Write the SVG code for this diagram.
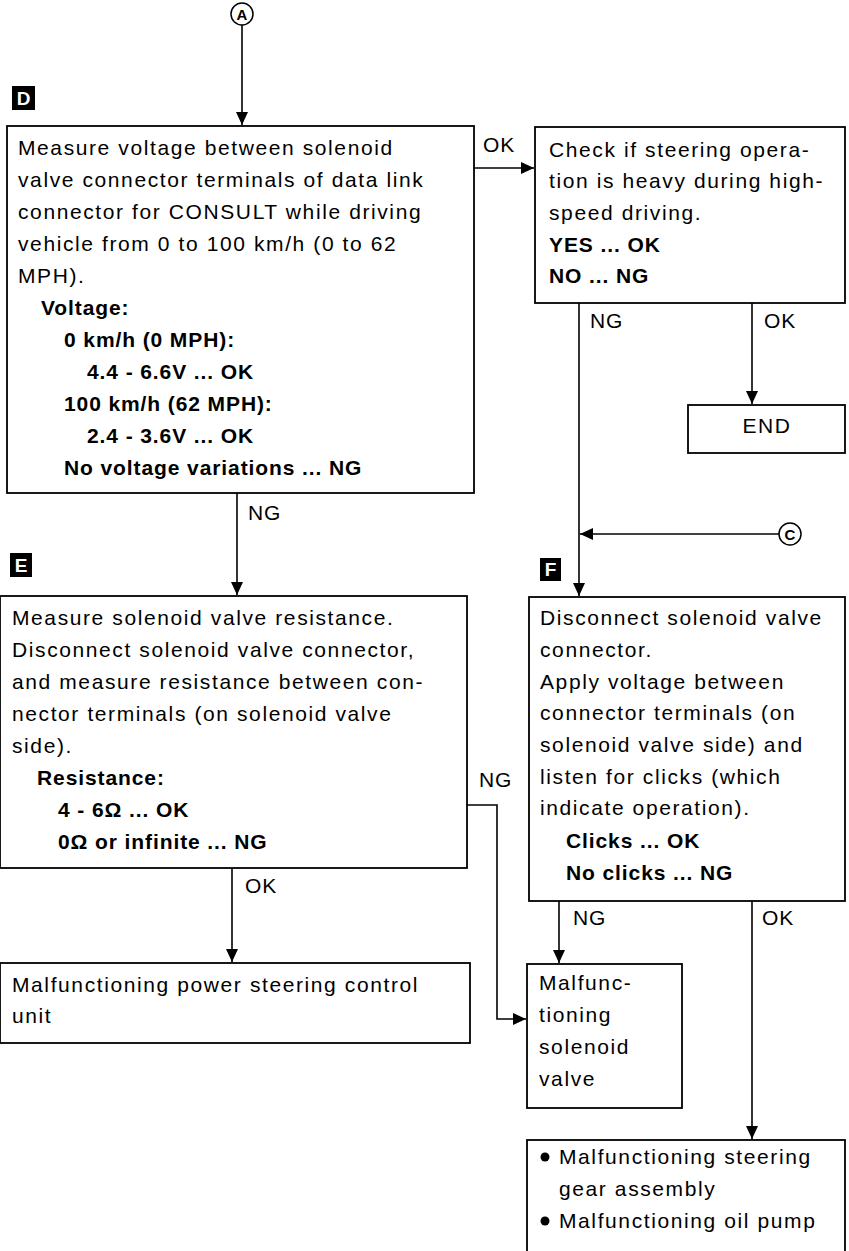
<svg xmlns="http://www.w3.org/2000/svg" width="849" height="1251" viewBox="0 0 849 1251">
<style>
.box{fill:#fff;stroke:#000;stroke-width:1.8}
.ln{fill:none;stroke:#000;stroke-width:1.6}
.t{font-family:"Liberation Sans",Arial,sans-serif;font-size:21px;letter-spacing:1.6px;fill:#000}
.b{font-family:"Liberation Sans",Arial,sans-serif;font-size:21px;font-weight:bold;letter-spacing:0.9px;fill:#000}
.lb{font-family:"Liberation Sans",Arial,sans-serif;font-size:21px;letter-spacing:0.8px;fill:#000}
.mk{fill:#000}
.mt{font-family:"Liberation Sans",Arial,sans-serif;font-size:19px;font-weight:bold;fill:#fff}
.ct{font-family:"Liberation Sans",Arial,sans-serif;font-size:15px;font-weight:bold;fill:#000}
</style>
<defs>
<marker id="ah" markerUnits="userSpaceOnUse" markerWidth="14" markerHeight="12" refX="13" refY="6" orient="auto">
<path d="M0,0 L13,6 L0,12 Z" fill="#000"/>
</marker>
</defs>
<rect width="849" height="1251" fill="#fff"/>

<g id="connectors">
<line class="ln" x1="242" y1="25" x2="242" y2="125" marker-end="url(#ah)"/>
<line class="ln" x1="474" y1="168" x2="534" y2="168" marker-end="url(#ah)"/>
<line class="ln" x1="579" y1="303" x2="579" y2="596" marker-end="url(#ah)"/>
<line class="ln" x1="752" y1="303" x2="752" y2="404" marker-end="url(#ah)"/>
<line class="ln" x1="779" y1="534" x2="580" y2="534" marker-end="url(#ah)"/>
<line class="ln" x1="237" y1="493" x2="237" y2="595" marker-end="url(#ah)"/>
<line class="ln" x1="232" y1="868" x2="232" y2="962" marker-end="url(#ah)"/>
<polyline class="ln" points="467,805 497,805 497,1019 526,1019" marker-end="url(#ah)"/>
<line class="ln" x1="559" y1="901" x2="559" y2="963" marker-end="url(#ah)"/>
<line class="ln" x1="752" y1="901" x2="752" y2="1139" marker-end="url(#ah)"/>
<text class="lb" x="483" y="152">OK</text>
<text class="lb" x="590" y="328">NG</text>
<text class="lb" x="764" y="328">OK</text>
<text class="lb" x="248" y="520">NG</text>
<text class="lb" x="245" y="893">OK</text>
<text class="lb" x="479" y="787">NG</text>
<text class="lb" x="573" y="925">NG</text>
<text class="lb" x="762" y="925">OK</text>
</g>

<g id="connA">
<circle cx="242" cy="14" r="11" fill="#fff" stroke="#000" stroke-width="1.5"/>
<text class="ct" x="242" y="19.5" text-anchor="middle">A</text>
</g>
<g id="connC">
<circle cx="790" cy="534" r="11" fill="#fff" stroke="#000" stroke-width="1.5"/>
<text class="ct" x="790" y="539.5" text-anchor="middle">C</text>
</g>

<g id="labelD">
<rect class="mk" x="12" y="86" width="23" height="24"/>
<text class="mt" x="23.5" y="105" text-anchor="middle">D</text>
</g>
<g id="labelE">
<rect class="mk" x="10" y="553" width="22" height="24"/>
<text class="mt" x="21" y="572" text-anchor="middle">E</text>
</g>
<g id="labelF">
<rect class="mk" x="540" y="558" width="21" height="23"/>
<text class="mt" x="550.5" y="576" text-anchor="middle">F</text>
</g>

<g id="nodeD">
<rect class="box" x="7" y="126" width="467" height="367"/>
<text class="t" x="18" y="155">Measure voltage between solenoid</text>
<text class="t" x="18" y="187">valve connector terminals of data link</text>
<text class="t" x="18" y="219">connector for CONSULT while driving</text>
<text class="t" x="18" y="251">vehicle from 0 to 100 km/h (0 to 62</text>
<text class="t" x="18" y="283">MPH).</text>
<text class="b" x="41" y="315">Voltage:</text>
<text class="b" x="64" y="347">0 km/h (0 MPH):</text>
<text class="b" x="87" y="379">4.4 - 6.6V ... OK</text>
<text class="b" x="64" y="411">100 km/h (62 MPH):</text>
<text class="b" x="87" y="443">2.4 - 3.6V ... OK</text>
<text class="b" x="64" y="475">No voltage variations ... NG</text>
</g>

<g id="nodeCheck">
<rect class="box" x="535" y="127" width="310" height="176"/>
<text class="t" x="549" y="157">Check if steering opera-</text>
<text class="t" x="549" y="188">tion is heavy during high-</text>
<text class="t" x="549" y="220">speed driving.</text>
<text class="b" x="549" y="252">YES ... OK</text>
<text class="b" x="549" y="283">NO ... NG</text>
</g>

<g id="nodeEnd">
<rect class="box" x="688" y="405" width="157" height="48"/>
<text class="t" x="767" y="433" text-anchor="middle">END</text>
</g>

<g id="nodeE">
<rect class="box" x="0" y="596" width="467" height="272"/>
<text class="t" x="12" y="625">Measure solenoid valve resistance.</text>
<text class="t" x="12" y="657">Disconnect solenoid valve connector,</text>
<text class="t" x="12" y="689">and measure resistance between con-</text>
<text class="t" x="12" y="721">nector terminals (on solenoid valve</text>
<text class="t" x="12" y="753">side).</text>
<text class="b" x="37" y="785">Resistance:</text>
<text class="b" x="58" y="817">4 - 6Ω ... OK</text>
<text class="b" x="58" y="849">0Ω or infinite ... NG</text>
</g>

<g id="nodeF">
<rect class="box" x="529" y="597" width="316" height="304"/>
<text class="t" x="540" y="625">Disconnect solenoid valve</text>
<text class="t" x="540" y="657">connector.</text>
<text class="t" x="540" y="689">Apply voltage between</text>
<text class="t" x="540" y="720">connector terminals (on</text>
<text class="t" x="540" y="752">solenoid valve side) and</text>
<text class="t" x="540" y="784">listen for clicks (which</text>
<text class="t" x="540" y="815">indicate operation).</text>
<text class="b" x="566" y="848">Clicks ... OK</text>
<text class="b" x="566" y="880">No clicks ... NG</text>
</g>

<g id="nodePSCU">
<rect class="box" x="0" y="963" width="470" height="80"/>
<text class="t" x="12" y="992">Malfunctioning power steering control</text>
<text class="t" x="12" y="1023">unit</text>
</g>

<g id="nodeSolenoid">
<rect class="box" x="527" y="964" width="155" height="144"/>
<text class="t" x="539" y="990">Malfunc-</text>
<text class="t" x="539" y="1022">tioning</text>
<text class="t" x="539" y="1054">solenoid</text>
<text class="t" x="539" y="1086">valve</text>
</g>

<g id="nodeGear">
<rect class="box" x="527" y="1140" width="318" height="130"/>
<circle cx="545" cy="1157" r="4.5" fill="#000"/>
<text class="t" x="559" y="1164">Malfunctioning steering</text>
<text class="t" x="559" y="1196">gear assembly</text>
<circle cx="545" cy="1221" r="4.5" fill="#000"/>
<text class="t" x="559" y="1228">Malfunctioning oil pump</text>
</g>
</svg>
